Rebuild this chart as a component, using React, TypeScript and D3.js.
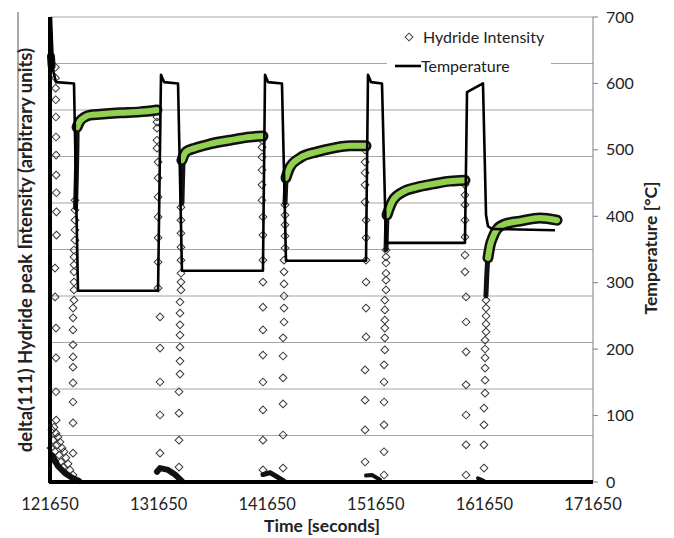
import React from "react";
import * as d3 from "d3";

type P = [number, number];

// ---- axis ticks ----
const timeTicks = [121650, 131650, 141650, 151650, 161650, 171650];
const tempTicks = [0, 100, 200, 300, 400, 500, 600, 700];
const intensityGrid = [0, 0.1, 0.2, 0.3, 0.4, 0.5, 0.6, 0.7, 0.8, 0.9, 1.0];

// ---- temperature (time [s], °C) ----
const temperature: P[] = [
  [121740, 700], [121930, 620], [122200, 602], [123860, 600], [124230, 288],
  [131600, 288], [131870, 613], [132150, 602], [133440, 600], [133800, 318],
  [141260, 318], [141450, 613], [141720, 602], [143010, 600], [143380, 333],
  [150750, 333], [150930, 613], [151210, 602], [152220, 600], [152590, 360],
  [159860, 360], [160050, 587], [161520, 600], [161800, 402], [161980, 385],
  [162350, 381], [168150, 379],
];

// ---- hydride intensity plateaus (green, dense markers) ----
const band1: P[] = [
  [124140, 0.763], [124410, 0.776], [124870, 0.785], [125330, 0.789],
  [126250, 0.791], [128100, 0.794], [129940, 0.796], [131500, 0.8],
];
const band2: P[] = [
  [133800, 0.692], [134170, 0.71], [135000, 0.718], [136380, 0.727],
  [138220, 0.735], [140070, 0.742], [141260, 0.744],
];
const band3: P[] = [
  [143380, 0.654], [143750, 0.677], [144670, 0.697], [146240, 0.71],
  [147710, 0.718], [149270, 0.723], [150750, 0.723],
];
const band4: P[] = [
  [152680, 0.574], [153230, 0.606], [154150, 0.624], [155440, 0.634],
  [156920, 0.641], [158480, 0.647], [159860, 0.649],
];
const band5: P[] = [
  [161980, 0.482], [162170, 0.508], [162440, 0.527], [162810, 0.544],
  [163550, 0.555], [164930, 0.561], [166770, 0.568], [168340, 0.563],
];

// ---- hydride intensity, dense marker runs ----
const denseStartDot: P[] = [[121740, 0.915], [121800, 0.895]];
const denseStart: P[] = [[121830, 0.058], [122390, 0.034], [123030, 0.019], [123680, 0.009], [124320, 0.002]];
const denseRise1: P[] = [[124000, 0.59], [124080, 0.66], [124130, 0.72], [124150, 0.76]];
const denseLow1: P[] = [[131500, 0.022], [131780, 0.03], [132520, 0.026], [133160, 0.016], [133800, 0.002]];
const denseRise2: P[] = [[133800, 0.6], [133850, 0.65], [133900, 0.69]];
const denseLow2: P[] = [[141260, 0.016], [141910, 0.02], [142640, 0.01], [143200, 0.002]];
const denseRise3: P[] = [[143290, 0.6], [143340, 0.63], [143380, 0.65]];
const denseLow3: P[] = [[150750, 0.014], [151300, 0.015], [152040, 0.005]];
const denseRise4: P[] = [[152590, 0.5], [152640, 0.545], [152680, 0.575]];
const denseLow4: P[] = [[161060, 0.008], [161610, 0.002]];
const denseRise5: P[] = [[161790, 0.4], [161880, 0.45], [161980, 0.49]];

// ---- hydride intensity, individual markers ----
const sparse: P[] = [
  // initial decline
  [122150, 0.892], [122160, 0.869], [122170, 0.847], [122180, 0.822], [122190, 0.785],
  [122200, 0.742], [122210, 0.703], [122220, 0.66], [122230, 0.622], [122240, 0.581],
  [122250, 0.531], [122110, 0.46], [122120, 0.398], [122200, 0.331], [122200, 0.267],
  [122200, 0.194], [122220, 0.133],
  // initial low cluster
  [121830, 0.112], [122020, 0.118], [122200, 0.105], [122390, 0.097], [121930, 0.09],
  [122300, 0.08], [122570, 0.086], [122760, 0.073], [122110, 0.065], [122480, 0.058],
  [122940, 0.065], [123120, 0.052], [122660, 0.043], [123310, 0.039], [122850, 0.032],
  [123490, 0.026], [122020, 0.047], [121740, 0.073],
  // cycle 1 rise
  [123770, 0.015], [123770, 0.062], [123770, 0.127], [123770, 0.172], [123770, 0.213],
  [123770, 0.247], [123770, 0.269], [123770, 0.295], [123770, 0.327], [123770, 0.353],
  [123770, 0.374], [123860, 0.391], [123860, 0.413], [123860, 0.43], [123860, 0.452],
  [123860, 0.467], [123860, 0.484], [123860, 0.499], [123950, 0.52], [123950, 0.542],
  [123950, 0.563], [123950, 0.585], [123950, 0.606],
  // cycle 1 decline
  [131500, 0.785], [131500, 0.774], [131500, 0.761], [131500, 0.735], [131500, 0.718],
  [131600, 0.688], [131600, 0.654], [131600, 0.613], [131600, 0.57], [131600, 0.525],
  [131600, 0.473], [131600, 0.417], [131780, 0.355], [131780, 0.288], [131780, 0.215],
  [131780, 0.144], [131780, 0.062],
  // cycle 2 rise
  [133710, 0.591], [133710, 0.563], [133710, 0.535], [133710, 0.505], [133710, 0.477],
  [133710, 0.449], [133710, 0.43], [133710, 0.413], [133620, 0.387], [133620, 0.363],
  [133620, 0.338], [133620, 0.316], [133620, 0.29], [133620, 0.26], [133620, 0.232],
  [133530, 0.194], [133530, 0.148], [133530, 0.09], [133530, 0.032],
  // cycle 2 decline
  [141170, 0.735], [141170, 0.72], [141170, 0.699], [141170, 0.671], [141170, 0.639],
  [141170, 0.606], [141260, 0.57], [141260, 0.531], [141260, 0.477], [141260, 0.43],
  [141260, 0.376], [141260, 0.327], [141260, 0.273], [141260, 0.215], [141260, 0.155],
  [141260, 0.09], [141260, 0.026],
  // cycle 3 rise
  [143290, 0.596], [143290, 0.574], [143290, 0.553], [143290, 0.529], [143290, 0.503],
  [143200, 0.477], [143200, 0.452], [143200, 0.426], [143200, 0.4], [143200, 0.374],
  [143200, 0.344], [143110, 0.31], [143110, 0.271], [143110, 0.224], [143110, 0.168],
  [143110, 0.101], [143110, 0.03],
  // cycle 3 decline
  [150660, 0.714], [150660, 0.688], [150660, 0.665], [150660, 0.639], [150660, 0.602],
  [150750, 0.563], [150750, 0.525], [150750, 0.477], [150750, 0.43], [150750, 0.374],
  [150750, 0.312], [150660, 0.241], [150660, 0.176], [150660, 0.112], [150660, 0.043],
  // cycle 4 rise
  [152590, 0.499], [152590, 0.484], [152590, 0.471], [152590, 0.449], [152590, 0.434],
  [152590, 0.413], [152480, 0.391], [152480, 0.37], [152480, 0.348], [152480, 0.331],
  [152480, 0.31], [152480, 0.284], [152410, 0.252], [152410, 0.215], [152410, 0.172],
  [152410, 0.123], [152410, 0.065], [152410, 0.015],
  // cycle 4 decline
  [159860, 0.639], [159860, 0.617], [159860, 0.596], [159860, 0.563], [159860, 0.527],
  [159860, 0.488], [159860, 0.452], [159960, 0.398], [159960, 0.344], [159960, 0.28],
  [159960, 0.209], [159960, 0.144], [159960, 0.08], [159960, 0.015],
  // cycle 5 rise
  [161800, 0.391], [161800, 0.374], [161800, 0.357], [161800, 0.34], [161800, 0.323],
  [161710, 0.305], [161710, 0.286], [161710, 0.267], [161710, 0.245], [161710, 0.219],
  [161710, 0.191], [161610, 0.159], [161610, 0.123], [161610, 0.08], [161610, 0.03],
];

const bands = [band1, band2, band3, band4, band5];
const denseRuns: { pts: P[]; w: number }[] = [
  { pts: denseStartDot, w: 8 },
  { pts: denseStart, w: 6 },
  { pts: denseRise1, w: 5 },
  { pts: denseLow1, w: 6 },
  { pts: denseRise2, w: 5 },
  { pts: denseLow2, w: 5 },
  { pts: denseRise3, w: 5 },
  { pts: denseLow3, w: 4 },
  { pts: denseRise4, w: 5 },
  { pts: denseLow4, w: 4 },
  { pts: denseRise5, w: 5 },
];

const L = 50, R = 593, T = 17, B = 482;
const FONT = "Lato, 'Open Sans', 'Liberation Sans', sans-serif";

export default function App() {
  const x = d3.scaleLinear().domain([121650, 171650]).range([L, R]);
  const yT = d3.scaleLinear().domain([0, 700]).range([B, T]);
  const yI = d3.scaleLinear().domain([0, 1]).range([B, T]);

  const tempLine = d3.line<P>().x((d) => x(d[0])).y((d) => yT(d[1]));
  const bandLine = d3.line<P>().x((d) => x(d[0])).y((d) => yI(d[1])).curve(d3.curveMonotoneX);
  const denseLine = d3.line<P>().x((d) => x(d[0])).y((d) => yI(d[1]));
  const diamond = d3.symbol(d3.symbolSquare, 30)() as string;

  return (
    <svg width={674} height={538} style={{ position: "absolute", left: 0, top: 0, background: "#fff" }} fontFamily={FONT}>
      <rect x={0} y={0} width={674} height={538} fill="#fff" />
      {/* stray frame line at far left */}
      <line x1={18} x2={18} y1={12} y2={247} stroke="#555" strokeWidth={1} />

      {/* gridlines (left axis) */}
      {intensityGrid.map((v) => (
        <line key={v} x1={L} x2={R} y1={yI(v)} y2={yI(v)} stroke="#a6a6a6" strokeWidth={1.2} />
      ))}

      {/* right axis */}
      <line x1={R} x2={R} y1={T} y2={B} stroke="#7f7f7f" strokeWidth={1} />
      {tempTicks.map((v) => (
        <g key={v}>
          <line x1={R} x2={R + 5} y1={yT(v)} y2={yT(v)} stroke="#7f7f7f" strokeWidth={1} />
          <text x={R + 13} y={yT(v) + 5.5} fontSize={16} fill="#222">{v}</text>
        </g>
      ))}

      {/* sparse intensity markers */}
      {sparse.map((d, i) => (
        <path key={i} d={diamond} transform={`translate(${x(d[0])},${yI(d[1])}) rotate(45)`} fill="none" stroke="#3a3a3a" strokeWidth={1} />
      ))}

      {/* dense intensity runs */}
      {denseRuns.map((r, i) => (
        <path key={i} d={denseLine(r.pts) as string} fill="none" stroke="#111" strokeWidth={r.w} strokeLinecap="round" strokeLinejoin="round" />
      ))}

      {/* intensity plateaus */}
      {bands.map((b, i) => (
        <g key={i}>
          <path d={bandLine(b) as string} fill="none" stroke="#111" strokeWidth={11} strokeLinecap="round" strokeLinejoin="round" />
          <path d={bandLine(b) as string} fill="none" stroke="#92d050" strokeWidth={6} strokeLinecap="round" strokeLinejoin="round" />
        </g>
      ))}

      {/* temperature */}
      <path d={tempLine(temperature) as string} fill="none" stroke="#000" strokeWidth={2.6} strokeLinejoin="round" />

      {/* primary axes */}
      <line x1={L} x2={L} y1={T} y2={B + 1} stroke="#000" strokeWidth={4} />
      <line x1={L - 1} x2={R} y1={B} y2={B} stroke="#000" strokeWidth={4} />

      {/* x tick labels */}
      {timeTicks.map((v) => (
        <text key={v} x={x(v)} y={510} fontSize={16.5} textAnchor="middle" fill="#222">{v}</text>
      ))}

      {/* axis titles */}
      <text x={322} y={532} fontSize={17.5} fontWeight="bold" textAnchor="middle" fill="#222">Time [seconds]</text>
      <text transform={`translate(657,248) rotate(-90)`} fontSize={17.5} fontWeight="bold" textAnchor="middle" fill="#222">Temperature [°C]</text>
      <text transform={`translate(32,250) rotate(-90)`} fontSize={18.5} fontWeight="bold" textAnchor="middle" fill="#222">delta(111) Hydride peak Intensity (arbitrary units)</text>

      {/* legend */}
      <rect x={387} y={23} width={164} height={56} fill="#fff" />
      <path d={diamond} transform={`translate(409,37) rotate(45)`} fill="none" stroke="#3a3a3a" strokeWidth={1} />
      <text x={423} y={43} fontSize={16} fill="#222">Hydride Intensity</text>
      <line x1={395} x2={421} y1={66} y2={66} stroke="#000" strokeWidth={2.6} />
      <text x={421} y={72} fontSize={16} fill="#222">Temperature</text>
    </svg>
  );
}
